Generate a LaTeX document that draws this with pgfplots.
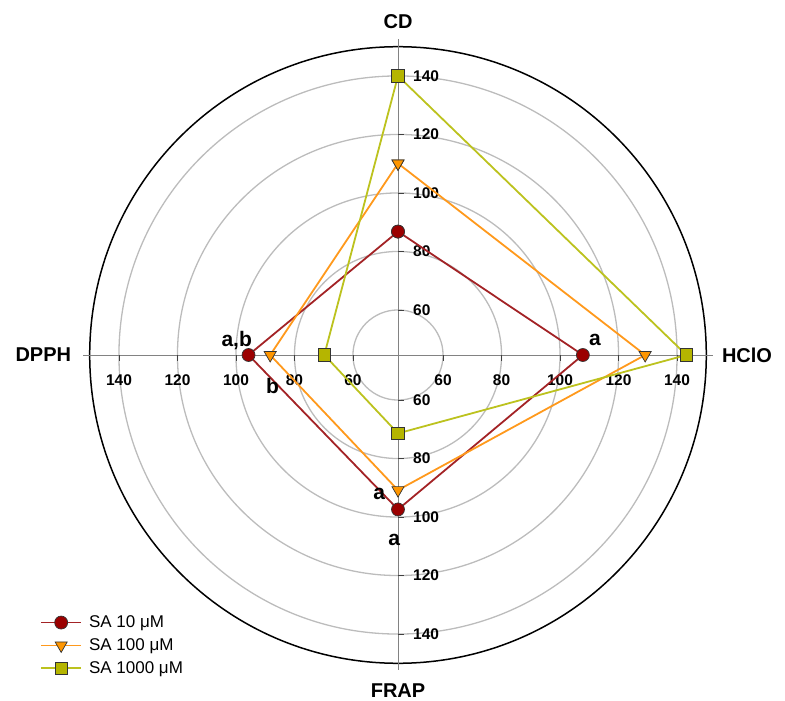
\documentclass[border=0pt]{standalone}
\usepackage{pgfplots}
\pgfplotsset{compat=1.18}
\usepackage{pgfplotstable}
\usepackage{fontspec}
\setmainfont{Liberation Sans}
\definecolor{cA}{RGB}{163,35,38}
\definecolor{cAf}{RGB}{155,0,0}
\definecolor{cB}{RGB}{255,153,28}
\definecolor{cBf}{RGB}{255,150,0}
\definecolor{cC}{RGB}{188,194,30}
\definecolor{cCf}{RGB}{181,181,0}
\definecolor{gridc}{RGB}{188,188,188}
\definecolor{spoke}{RGB}{130,130,130}

% angle (deg): 90 = CD, 0 = HClO, 270 = FRAP, 180 = DPPH
\pgfplotstableread{
ang val
90 86.8
0 107.8
270 97.4
180 95.7
90 86.8
}\saA
\pgfplotstableread{
ang val
90 110.1
0 129.1
270 90.8
180 88.3
90 110.1
}\saB
\pgfplotstableread{
ang val
90 140.0
0 143.2
270 71.4
180 69.8
90 140.0
}\saC

\tikzset{
  tl/.style={font=\fontsize{15.5}{18}\selectfont\bfseries, inner sep=0pt},
  ann/.style={font=\fontsize{21}{24}\selectfont\bfseries, inner sep=0pt, anchor=base},
  ttl/.style={font=\fontsize{20}{24}\selectfont\bfseries, inner sep=0pt},
  tk/.style={black!75, line width=0.9pt},
}
\newcommand{\ticklab}[2]{%
  \node[tl, anchor=west] at ([xshift=15pt]axis cs:0,#1) {#2};
  \node[tl, anchor=west] at ([xshift=15pt]axis cs:0,-#1) {#2};
  \node[tl] at ([yshift=-25pt]axis cs:#1,0) {#2};
  \node[tl] at ([yshift=-25pt]axis cs:-#1,0) {#2};
}

\begin{document}
\begin{tikzpicture}
\begin{axis}[
  x=2.925pt, y=2.925pt,
  hide axis, clip=false,
  xmin=-136.07, xmax=132.31, ymin=-118.29, ymax=121.37,
  legend cell align=left,
  legend style={at={(axis cs:-122.3,-88.5)}, anchor=north west, draw=none, fill=none,
    inner sep=0pt, outer sep=0pt, row sep=5.5pt,
    font=\fontsize{17}{20}\selectfont,
    /tikz/every odd column/.append style={column sep=5pt}},
  legend image code/.code={\draw[mark repeat=2,mark phase=2,#1] plot coordinates {(0pt,0pt) (20pt,0pt) (40pt,0pt)};},
]
\path (axis cs:-136.07,-118.29) rectangle (axis cs:132.31,121.37);
% grid circles
\draw[gridc, line width=1.3pt] (axis cs:0,0) circle[radius=45.05pt];
\draw[gridc, line width=1.3pt] (axis cs:0,0) circle[radius=103.55pt];
\draw[gridc, line width=1.3pt] (axis cs:0,0) circle[radius=162.05pt];
\draw[gridc, line width=1.3pt] (axis cs:0,0) circle[radius=220.55pt];
\draw[gridc, line width=1.3pt] (axis cs:0,0) circle[radius=279.05pt];
\draw[black, line width=1.5pt] (axis cs:0,0) circle[radius=308.3pt];
% spokes
\draw[spoke, line width=1pt] ([xshift=-315pt]axis cs:0,0) -- ([xshift=315pt]axis cs:0,0);
\draw[spoke, line width=1pt] ([yshift=-315pt]axis cs:0,0) -- ([yshift=316pt]axis cs:0,0);
% tick marks
\pgfplotsinvokeforeach{15.4,35.4,55.4,75.4,95.4}{
  \draw[tk] (axis cs:0,#1) -- ([xshift=6pt]axis cs:0,#1);
  \draw[tk] (axis cs:0,-#1) -- ([xshift=6pt]axis cs:0,-#1);
  \draw[tk] (axis cs:#1,0) -- ([yshift=-6pt]axis cs:#1,0);
  \draw[tk] (axis cs:-#1,0) -- ([yshift=-6pt]axis cs:-#1,0);
}
\ticklab{15.4}{60}
\ticklab{35.4}{80}
\ticklab{55.4}{100}
\ticklab{75.4}{120}
\ticklab{95.4}{140}
% axis titles
\node[ttl] at ([yshift=333.3pt]axis cs:0,0) {CD};
\node[ttl] at ([xshift=349pt]axis cs:0,0) {HClO};
\node[ttl] at ([yshift=-336pt]axis cs:0,0) {FRAP};
\node[ttl] at ([xshift=-354.7pt]axis cs:0,0) {DPPH};

\addplot[cA, line width=1.8pt, mark=*, mark size=6.5pt,
  mark options={solid, fill=cAf, draw=black!80, line width=0.7pt}]
  table[x expr={(\thisrow{val}-44.6)*cos(\thisrow{ang})}, y expr={(\thisrow{val}-44.6)*sin(\thisrow{ang})}] {\saA};
\addlegendentry{SA 10 μM}
\addplot[cB, line width=1.8pt, mark=triangle*, mark size=7pt,
  mark options={solid, rotate=180, fill=cBf, draw=black!80, line width=0.7pt}]
  table[x expr={(\thisrow{val}-44.6)*cos(\thisrow{ang})}, y expr={(\thisrow{val}-44.6)*sin(\thisrow{ang})}] {\saB};
\addlegendentry{SA 100 μM}
\addplot[cC, line width=1.8pt, mark=square*, mark size=6.3pt,
  mark options={solid, fill=cCf, draw=black!80, line width=0.7pt}]
  table[x expr={(\thisrow{val}-44.6)*cos(\thisrow{ang})}, y expr={(\thisrow{val}-44.6)*sin(\thisrow{ang})}] {\saC};
\addlegendentry{SA 1000 μM}

% significance letters
\node[ann] at ([shift={(197pt,10pt)}]axis cs:0,0) {a};
\node[ann] at ([shift={(-161.3pt,8.3pt)}]axis cs:0,0) {a,b};
\node[ann] at ([shift={(-125.5pt,-38.3pt)}]axis cs:0,0) {b};
\node[ann] at ([shift={(-18.8pt,-145pt)}]axis cs:0,0) {a};
\node[ann] at ([shift={(-3.8pt,-191pt)}]axis cs:0,0) {a};
\end{axis}
\end{tikzpicture}
\end{document}
